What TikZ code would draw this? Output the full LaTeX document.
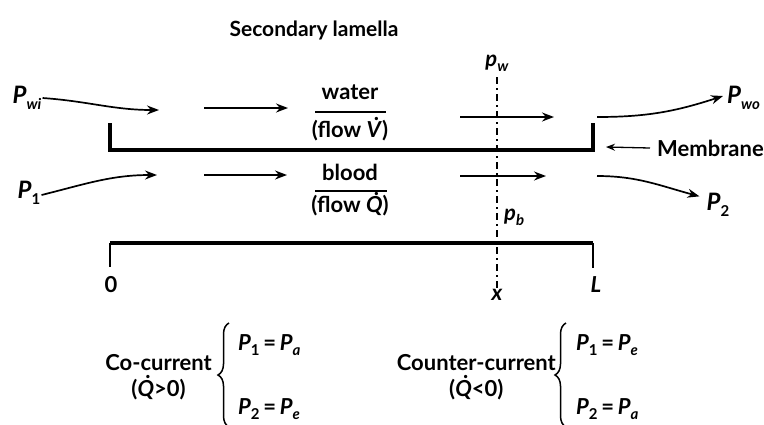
\documentclass[tikz,border=0pt]{standalone}
\usepackage{fontspec}
\setmainfont{Lato}
\usetikzlibrary{arrows.meta,positioning,decorations.pathreplacing}
\newcommand{\fdot}[1]{\ooalign{#1\cr\hidewidth\kern0.2em\smash{\raisebox{0.8em}{.}}\hidewidth\cr}}
\newcommand{\pv}[2]{\textit{#1}\raisebox{-0.45ex}{\fontsize{15}{15}\selectfont #2}}

\begin{document}
\begin{tikzpicture}[x=1pt,y=-1pt,font=\fontsize{22}{26}\selectfont\bfseries,>={Stealth[length=12pt,width=9pt,inset=4pt]},
  flw/.style={->,line width=1.7pt},
  wall/.style={line width=3.5pt},
  tick/.style={line width=2.5pt},
  lbl/.style={inner sep=1pt},
  brc/.style={decorate,decoration={brace,amplitude=11pt},line width=1.5pt}]
  \useasboundingbox (0,0) rectangle (764,424);
  \node[lbl,font=\fontsize{21}{24}\selectfont\bfseries] (title) at (314,30) {Secondary lamella};
  % channel walls
  \draw[wall] (110,123) |- (593,150) -- (593,123);
  \draw[wall] (110,243) -- (593,243);
  \draw[tick] (110,243) -- (110,267);
  \draw[tick] (593,243) -- (593,268);
  \node[lbl] (zero) at (111,285) {0};
  \node[lbl] (ell) at (596,285) {\textit{L}};
  \node[lbl] (xpos) at (497,295) {\textit{x}};
  % section at x
  \draw[line width=1.7pt,dash pattern=on 7pt off 4pt on 2pt off 4pt] (497,77) -- (xpos.north);
  \node[lbl] (pw) at (497,63) {\pv{p}{\textit{w}}};
  \node[lbl,anchor=west] (pb) at (503,217) {\pv{p}{\textit{b}}};
  % water side
  \node[lbl,font=\fontsize{24}{26}\selectfont\bfseries] (pwi) at (27,98) {\pv{P}{\textit{wi}}};
  \coordinate (w1) at (159,110);
  \coordinate (w2a) at (204,108); \coordinate (w2b) at (288,108);
  \coordinate (w3a) at (460,117); \coordinate (w3b) at (554,117);
  \coordinate (w4) at (597,117);
  \node[lbl,font=\fontsize{24}{26}\selectfont\bfseries,anchor=west] (pwo) at (726,98) {\pv{P}{\textit{wo}}};
  \draw[flw] (pwi.east) to[out=-4,in=180] (w1);
  \draw[flw] (w2a) -- (w2b);
  \draw[flw] (w3a) -- (w3b);
  \draw[flw] (w4) to[out=0,in=198] ([xshift=-3pt,yshift=2pt]pwo.west);
  \node[lbl] (water) at (350,92) {water};
  \node[lbl] (flowv) at (350,131) {(flow \fdot{\textit{V}})};
  \draw[line width=1.3pt] (315,112) coordinate (wr) -- (386,112);
  % blood side
  \node[lbl,font=\fontsize{24}{26}\selectfont\bfseries] (p1) at (29,193) {\pv{P}{1}};
  \coordinate (b1) at (157,175);
  \coordinate (b2a) at (204,175); \coordinate (b2b) at (287,175);
  \coordinate (b3a) at (460,176); \coordinate (b3b) at (546,176);
  \coordinate (b4) at (597,176);
  \node[lbl,font=\fontsize{24}{26}\selectfont\bfseries] (p2) at (718,205) {\pv{P}{2}};
  \draw[flw] ([yshift=-2pt]p1.east) to[out=14,in=180] (b1);
  \draw[flw] (b4) to[out=0,in=165] ([xshift=-6pt,yshift=-4pt]p2.north west);
  \draw[flw] (b2a) -- (b2b);
  \draw[flw] (b3a) -- (b3b);
  \node[lbl] (blood) at (350,172) {blood};
  \node[lbl] (flowq) at (350,206) {(flow \fdot{\textit{Q}})};
  \draw[line width=1.3pt] (315,191) coordinate (br) -- (387,191);
  % membrane
  \node[lbl,anchor=west] (mem) at (656,148) {Membrane};
  \coordinate (m1) at (606,147);
  \draw[flw,line width=1.3pt,>={Stealth[length=9pt,width=7pt,inset=3pt]}] ([xshift=-6pt]mem.west) -- (m1);
  % flow cases
  \node[lbl,align=center,anchor=east] (co) at (213,377) {Co-current\\(\fdot{\textit{Q}}>0)};
  \node[lbl,anchor=west] (co1) at (237,345) {\pv{P}{1}\,=\,\pv{P}{\textit{a}}};
  \node[lbl,anchor=west] (co2) at (237,409) {\pv{P}{2}\,=\,\pv{P}{\textit{e}}};
  \draw[brc] (229,427) -- (229,323);
  \node[lbl,align=center,anchor=east] (cc) at (557,377) {Counter-current\\(\fdot{\textit{Q}}<0)};
  \node[lbl,anchor=west] (cc1) at (575,345) {\pv{P}{1}\,=\,\pv{P}{\textit{e}}};
  \node[lbl,anchor=west] (cc2) at (575,409) {\pv{P}{2}\,=\,\pv{P}{\textit{a}}};
  \draw[brc] (566,427) -- (566,323);
\end{tikzpicture}
\end{document}
